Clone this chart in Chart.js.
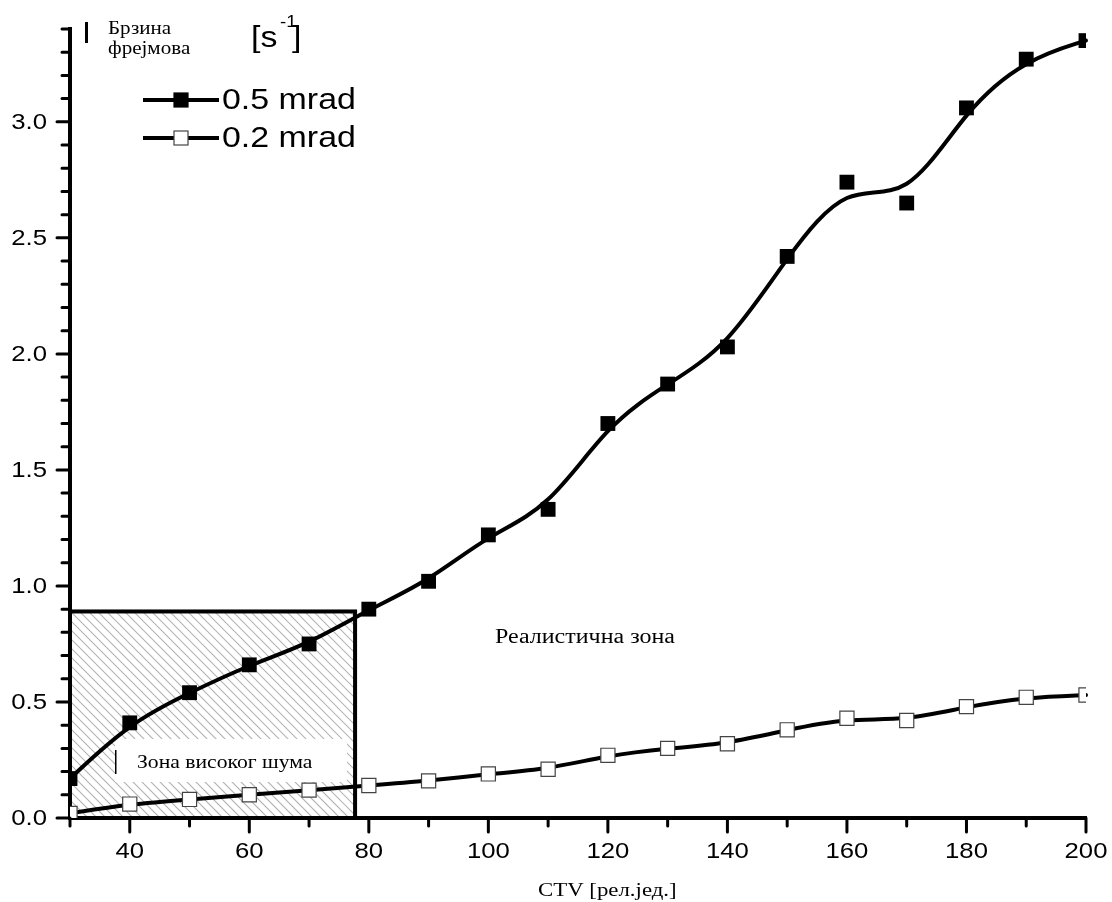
<!DOCTYPE html>
<html>
<head>
<meta charset="utf-8">
<script src="https://cdn.jsdelivr.net/npm/chart.js@4/dist/chart.umd.min.js"></script>
<style>
  html, body { margin: 0; padding: 0; background: #fff; }
  #wrap { width: 1112px; height: 902px; position: relative; }
</style>
</head>
<body>
<div id="wrap"><canvas id="fps"></canvas></div>
<script>
// CTV values (рел.јед.)
const ctv = [30, 40, 50, 60, 70, 80, 90, 100, 110, 120, 130, 140, 150, 160, 170, 180, 190, 200];
// frame rate, s^-1
const rate05 = [0.17, 0.41, 0.54, 0.66, 0.75, 0.90, 1.02, 1.22, 1.33, 1.70, 1.87, 2.03, 2.42, 2.74, 2.65, 3.06, 3.27, 3.35];
const rate02 = [0.02, 0.06, 0.08, 0.10, 0.12, 0.14, 0.16, 0.19, 0.21, 0.27, 0.30, 0.32, 0.38, 0.43, 0.42, 0.48, 0.52, 0.53];
const seriesNames = ['0.5 mrad', '0.2 mrad'];

// high-noise zone: CTV 30..77.7, rate 0..0.89
const noiseCtv = [30, 77.7];
const noiseRate = [0, 0.89];

const SANS = '"Liberation Sans", Arial, sans-serif';
const SERIF = '"Liberation Serif", "Times New Roman", serif';
const WIDE = 1.17; // text is drawn slightly widened

function toPoints(ys) {
  return ctv.map((x, i) => ({ x: x, y: ys[i] }));
}

function wideText(ctx, text, x, y, font, align, baseline) {
  ctx.save();
  ctx.translate(x, y);
  ctx.scale(WIDE, 1);
  ctx.font = font;
  ctx.textAlign = align || 'left';
  ctx.textBaseline = baseline || 'alphabetic';
  ctx.fillText(text, 0, 0);
  ctx.restore();
}

// clamped uniform cubic B-spline through the pixel positions of the points
function strokeBSpline(ctx, pts) {
  const n = pts.length;
  const p = [pts[0], pts[0]].concat(pts, [pts[n - 1], pts[n - 1]]);
  ctx.beginPath();
  for (let i = 0; i + 3 < p.length; i++) {
    const a = p[i], b = p[i + 1], c = p[i + 2], d = p[i + 3];
    const sx = (a.x + 4 * b.x + c.x) / 6, sy = (a.y + 4 * b.y + c.y) / 6;
    const ex = (b.x + 4 * c.x + d.x) / 6, ey = (b.y + 4 * c.y + d.y) / 6;
    if (i === 0) ctx.moveTo(sx, sy);
    ctx.bezierCurveTo((2 * b.x + c.x) / 3, (2 * b.y + c.y) / 3,
                      (b.x + 2 * c.x) / 3, (b.y + 2 * c.y) / 3, ex, ey);
  }
  ctx.stroke();
}

const isMultiple = (v, step) => Math.abs(v / step - Math.round(v / step)) < 1e-6;

const backdrop = {
  id: 'backdrop',
  beforeDatasetsDraw(chart) {
    const { ctx, scales: { x, y } } = chart;
    const x0 = x.getPixelForValue(noiseCtv[0]), x1 = x.getPixelForValue(noiseCtv[1]);
    const y0 = y.getPixelForValue(noiseRate[0]), y1 = y.getPixelForValue(noiseRate[1]);
    ctx.save();
    // hatching
    ctx.beginPath();
    ctx.rect(x0, y1, x1 - x0, y0 - y1);
    ctx.clip();
    ctx.strokeStyle = '#b4b4b4';
    ctx.lineWidth = 1.1;
    const h = y0 - y1;
    ctx.beginPath();
    for (let sx = x0 - h; sx < x1; sx += 9) {
      ctx.moveTo(sx, y1);
      ctx.lineTo(sx + h, y0);
    }
    ctx.stroke();
    ctx.restore();

    // zone frame
    ctx.save();
    ctx.strokeStyle = '#000';
    ctx.lineWidth = 4;
    ctx.strokeRect(x0, y1, x1 - x0, y0 - y1);

    // label of the noisy zone
    ctx.fillStyle = '#fff';
    ctx.fillRect(115, 739, 232, 43);
    ctx.fillStyle = '#000';
    ctx.fillRect(115, 750, 1.5, 24);
    wideText(ctx, 'Зона високог шума', 137, 768, '18.5px ' + SERIF);
    wideText(ctx, 'Реалистична зона', 495, 643, '20.5px ' + SERIF);

    // smoothed curves
    ctx.strokeStyle = '#000';
    ctx.lineWidth = 4;
    ctx.lineJoin = 'round';
    ctx.lineCap = 'round';
    chart.data.datasets.forEach((ds, i) => {
      const pts = chart.getDatasetMeta(i).data.map(el => ({ x: el.x, y: el.y }));
      strokeBSpline(ctx, pts);
    });
    ctx.restore();
  },
  afterDraw(chart) {
    const { ctx, scales: { x, y } } = chart;
    ctx.save();
    ctx.strokeStyle = '#000';
    ctx.fillStyle = '#000';
    ctx.lineWidth = 3;
    ctx.lineCap = 'round';
    ctx.beginPath();
    y.ticks.forEach(t => {
      const py = y.getPixelForValue(t.value);
      const major = isMultiple(t.value, 0.5);
      ctx.moveTo(y.right, py);
      ctx.lineTo(y.right - (major ? 13 : 8), py);
      if (major) wideText(ctx, t.value.toFixed(1), 47, py + 1, '22px ' + SANS, 'right', 'middle');
    });
    x.ticks.forEach(t => {
      const px = x.getPixelForValue(t.value);
      const major = isMultiple(t.value, 20);
      ctx.moveTo(px, x.top);
      ctx.lineTo(px, x.top + (major ? 14 : 8));
      if (major) wideText(ctx, String(t.value), px, 858, '22px ' + SANS, 'center');
    });
    ctx.stroke();

    // axis title
    wideText(ctx, 'CTV [рел.јед.]', 538, 896, '19.5px ' + SERIF);

    // y title
    ctx.fillRect(85, 22, 3, 21);
    wideText(ctx, 'Брзина', 108, 34, '18px ' + SERIF);
    wideText(ctx, 'фрејмова', 108, 54, '18px ' + SERIF);
    wideText(ctx, '[s', 251, 47, '29px ' + SANS);
    wideText(ctx, '-1', 280, 27, '16px ' + SANS);
    wideText(ctx, ']', 292, 47, '29px ' + SANS);

    // legend
    const rows = [100, 138];
    chart.data.datasets.forEach((ds, i) => {
      const ly = rows[i];
      ctx.strokeStyle = '#000';
      ctx.lineWidth = 4;
      ctx.lineCap = 'butt';
      ctx.beginPath();
      ctx.moveTo(143, ly);
      ctx.lineTo(219, ly);
      ctx.stroke();
      ctx.fillStyle = ds.pointBackgroundColor;
      ctx.fillRect(174, ly - 7, 14, 14);
      ctx.lineWidth = 1.2;
      ctx.strokeStyle = ds.pointBorderColor;
      ctx.strokeRect(174, ly - 7, 14, 14);
      ctx.fillStyle = '#000';
      wideText(ctx, ds.label, 222, ly + 1, '29px ' + SANS, 'left', 'middle');
    });
    ctx.restore();
  }
};

new Chart(document.getElementById('fps'), {
  type: 'line',
  data: {
    datasets: [
      {
        label: seriesNames[0],
        data: toPoints(rate05),
        showLine: false,
        pointStyle: 'rect',
        pointRadius: 10.5,
        pointBackgroundColor: '#000',
        pointBorderColor: '#000',
        pointBorderWidth: 0
      },
      {
        label: seriesNames[1],
        data: toPoints(rate02),
        showLine: false,
        pointStyle: 'rect',
        pointRadius: 10,
        pointBackgroundColor: '#fff',
        pointBorderColor: '#444',
        pointBorderWidth: 1.2
      }
    ]
  },
  plugins: [backdrop],
  options: {
    responsive: true,
    maintainAspectRatio: false,
    animation: false,
    layout: { padding: { top: 29, right: 26, left: 0, bottom: 0 } },
    plugins: { legend: { display: false }, tooltip: { enabled: false } },
    scales: {
      x: {
        type: 'linear',
        min: 30,
        max: 200,
        afterFit(scale) { scale.height = 84; },
        border: { display: true, color: '#000', width: 4 },
        grid: { display: false, drawTicks: false },
        ticks: { display: false, stepSize: 10, autoSkip: false }
      },
      y: {
        min: 0,
        max: 3.4,
        afterFit(scale) { scale.width = 70; },
        border: { display: true, color: '#000', width: 4 },
        grid: { display: false, drawTicks: false },
        ticks: { display: false, stepSize: 0.1, autoSkip: false }
      }
    }
  }
});
</script>
</body>
</html>
